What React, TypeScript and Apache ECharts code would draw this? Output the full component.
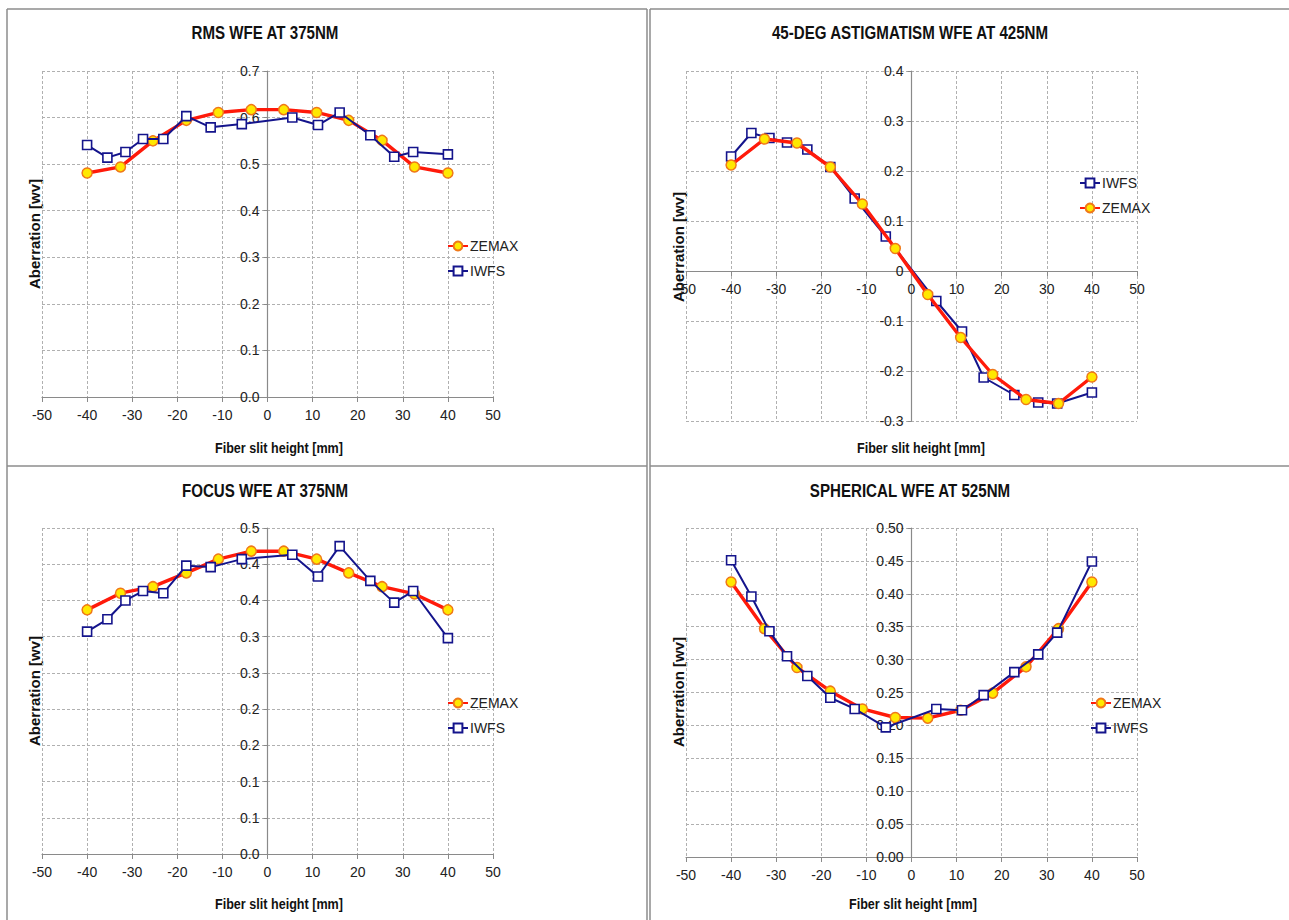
import React, { useEffect, useRef } from 'react';
import * as echarts from 'echarts';

// Fiber slit heights [mm]
const xZemax = [-40, -32.6, -25.4, -18, -10.9, -3.6, 3.6, 10.9, 18, 25.4, 32.6, 40];
const xIwfs = [-40, -35.5, -31.5, -27.6, -23.1, -18, -12.6, -5.7, 5.5, 11.2, 16, 22.8, 28.1, 32.3, 40];

// RMS WFE at 375nm
const rmsZemax = [0.481, 0.494, 0.55, 0.594, 0.611, 0.617, 0.617, 0.611, 0.594, 0.551, 0.494, 0.481];
const rmsIwfs = [0.541, 0.514, 0.526, 0.554, 0.554, 0.603, 0.579, 0.586, 0.6, 0.584, 0.611, 0.562, 0.516, 0.526, 0.521];

// 45-deg astigmatism WFE at 425nm
const astZemax = [0.212, 0.264, 0.256, 0.208, 0.134, 0.045, -0.047, -0.133, -0.207, -0.257, -0.265, -0.212];
const astIwfs = [0.229, 0.276, 0.266, 0.257, 0.243, 0.208, 0.145, 0.069, -0.06, -0.121, -0.213, -0.248, -0.263, -0.265, -0.243];

// Focus WFE at 375nm
const focZemax = [0.337, 0.36, 0.369, 0.388, 0.407, 0.418, 0.418, 0.407, 0.388, 0.369, 0.359, 0.337];
const focIwfs = [0.307, 0.324, 0.35, 0.363, 0.36, 0.398, 0.396, 0.407, 0.413, 0.383, 0.425, 0.377, 0.347, 0.363, 0.298];

// Spherical WFE at 525nm
const sphZemax = [0.418, 0.347, 0.288, 0.252, 0.225, 0.212, 0.211, 0.223, 0.249, 0.289, 0.347, 0.418];
const sphIwfs = [0.451, 0.396, 0.343, 0.305, 0.275, 0.242, 0.225, 0.197, 0.225, 0.223, 0.246, 0.281, 0.308, 0.341, 0.449];

const panelTitles = ['RMS WFE AT 375NM', '45-DEG ASTIGMATISM WFE AT 425NM', 'FOCUS WFE AT 375NM', 'SPHERICAL WFE AT 525NM'];
const xTitle = 'Fiber slit height [mm]';
const yTitle = 'Aberration [wv]';
const yRanges = [
  [0, 0.7, 0.1],
  [-0.3, 0.4, 0.1],
  [0, 0.45, 0.05],
  [0, 0.5, 0.05],
];
const legendOrders = [
  ['ZEMAX', 'IWFS'],
  ['IWFS', 'ZEMAX'],
  ['ZEMAX', 'IWFS'],
  ['ZEMAX', 'IWFS'],
];

const REG = "'Liberation Sans', Arial, sans-serif";

const grids = [
  { left: 42, top: 71, width: 451, height: 326 },
  { left: 686, top: 71, width: 451, height: 350 },
  { left: 42, top: 528, width: 451, height: 326 },
  { left: 686, top: 528, width: 451, height: 329 },
];
const titlePos = [
  [265, 33],
  [910, 33],
  [265, 491],
  [910, 491],
];
const xTitlePos = [
  [279, 448],
  [921, 448],
  [279, 904],
  [913, 904],
];
const yTitlePos = [
  [34, 234],
  [678, 247],
  [34, 691],
  [678, 692],
];
const legendPos = [
  [447, 239],
  [1079, 176],
  [447, 696],
  [1090, 696],
];

const yFormatters = [
  (v: number) => v.toFixed(1),
  (v: number) => (Math.abs(v) < 1e-9 ? '0' : String(Math.round(v * 10) / 10)),
  (v: number) => (Math.round(v * 10 + 1e-6) / 10).toFixed(1),
  (v: number) => v.toFixed(2),
];

const zemaxData = [rmsZemax, astZemax, focZemax, sphZemax];
const iwfsData = [rmsIwfs, astIwfs, focIwfs, sphIwfs];

const AXIS = '#8a8a8a';
const GRIDC = '#b0b0b0';
const SQ = 0.84;

function zemaxSeries(i: number) {
  return {
    type: 'line',
    name: 'ZEMAX',
    xAxisIndex: i,
    yAxisIndex: i,
    data: xZemax.map((x, k) => [x, zemaxData[i][k]]),
    symbol: 'circle',
    symbolSize: 10,
    lineStyle: { color: '#ff1a0a', width: 3.4 },
    itemStyle: { color: '#ffe800', borderColor: '#f07818', borderWidth: 1.5 },
    z: i === 1 ? 4 : 3,
  };
}
function iwfsSeries(i: number) {
  return {
    type: 'line',
    name: 'IWFS',
    xAxisIndex: i,
    yAxisIndex: i,
    data: xIwfs.map((x, k) => [x, iwfsData[i][k]]),
    symbol: 'rect',
    symbolSize: 9,
    lineStyle: { color: '#14148c', width: 2 },
    itemStyle: { color: '#ffffff', borderColor: '#14148c', borderWidth: 1.6 },
    z: i === 1 ? 3 : 4,
  };
}

// offset that places an axis on the other axis' zero
function xOffset(i: number) {
  const [mn, mx] = yRanges[i];
  return -grids[i].height * (0 - mn) / (mx - mn);
}
function yOffset(i: number) {
  return -grids[i].width * (0 - -50) / 100;
}

export default function App() {
  const ref = useRef<HTMLDivElement>(null);
  useEffect(() => {
    if (!ref.current) return;
    const chart = echarts.init(ref.current, undefined, { renderer: 'svg' });
    const graphics: any[] = [];
    const border = (x1: number, y1: number, x2: number, y2: number) =>
      graphics.push({ type: 'line', shape: { x1, y1, x2, y2 }, style: { stroke: '#8c8c8c', lineWidth: 1.5 }, silent: true });
    border(7, 9, 647, 9);
    border(650, 9, 1289, 9);
    border(7, 9, 7, 920);
    border(647, 9, 647, 920);
    border(650, 9, 650, 920);
    border(7, 466, 647, 466);
    border(650, 466, 1289, 466);
    for (let i = 0; i < 4; i++) {
      graphics.push({
        type: 'text',
        x: titlePos[i][0],
        y: titlePos[i][1],
        scaleX: SQ,
        style: { text: panelTitles[i], font: `bold 18px ${REG}`, fill: '#111', textAlign: 'center', textVerticalAlign: 'middle' },
      });
      graphics.push({
        type: 'text',
        x: xTitlePos[i][0],
        y: xTitlePos[i][1],
        scaleX: SQ,
        style: { text: xTitle, font: `bold 15px ${REG}`, fill: '#111', textAlign: 'center', textVerticalAlign: 'middle' },
      });
      graphics.push({
        type: 'text',
        x: yTitlePos[i][0],
        y: yTitlePos[i][1],
        rotation: Math.PI / 2,
        style: { text: yTitle, font: `bold 15px ${REG}`, fill: '#111', textAlign: 'center', textVerticalAlign: 'middle' },
      });
    }
    const option: any = {
      animation: false,
      backgroundColor: '#ffffff',
      grid: grids.map((g) => ({ ...g, containLabel: false })),
      xAxis: grids.map((_, i) => ({
        gridIndex: i,
        type: 'value',
        min: -50,
        max: 50,
        interval: 10,
        position: 'bottom',
        offset: xOffset(i),
        axisLine: { show: true, onZero: false, lineStyle: { color: AXIS, width: 1.2 } },
        axisTick: { show: true, length: 5, lineStyle: { color: AXIS } },
        axisLabel: { fontSize: 14, fontFamily: REG, color: '#222', margin: 11, hideOverlap: false, formatter: (v: number) => String(Math.round(v)) },
        splitLine: { show: true, lineStyle: { type: [3, 2], color: GRIDC, width: 1 } },
      })),
      yAxis: grids.map((_, i) => ({
        gridIndex: i,
        type: 'value',
        min: yRanges[i][0],
        max: yRanges[i][1],
        interval: yRanges[i][2],
        position: 'left',
        offset: yOffset(i),
        axisLine: { show: true, onZero: false, lineStyle: { color: AXIS, width: 1.2 } },
        axisTick: { show: true, length: 4, lineStyle: { color: AXIS } },
        axisLabel: { fontSize: 14, fontFamily: REG, color: '#222', margin: 8, hideOverlap: false, formatter: yFormatters[i] },
        splitLine: { show: true, lineStyle: { type: [3, 2], color: GRIDC, width: 1 } },
      })),
      legend: legendPos.map((p, i) => ({
        left: p[0],
        top: p[1],
        orient: 'vertical',
        data: legendOrders[i],
        itemWidth: 20,
        itemHeight: 11,
        itemGap: 11,
        padding: 0,
        selectedMode: false,
        textStyle: { fontSize: 14, fontFamily: REG, color: '#222', padding: [0, 0, 0, -3] },
      })),
      series: [0, 1, 2, 3].flatMap((i) => (i === 1 ? [iwfsSeries(i), zemaxSeries(i)] : [zemaxSeries(i), iwfsSeries(i)])),
      graphic: graphics,
    };
    chart.setOption(option);
    return () => chart.dispose();
  }, []);
  return <div ref={ref} style={{ position: 'absolute', left: 0, top: 0, width: 1289, height: 920, background: '#fff' }} />;
}
